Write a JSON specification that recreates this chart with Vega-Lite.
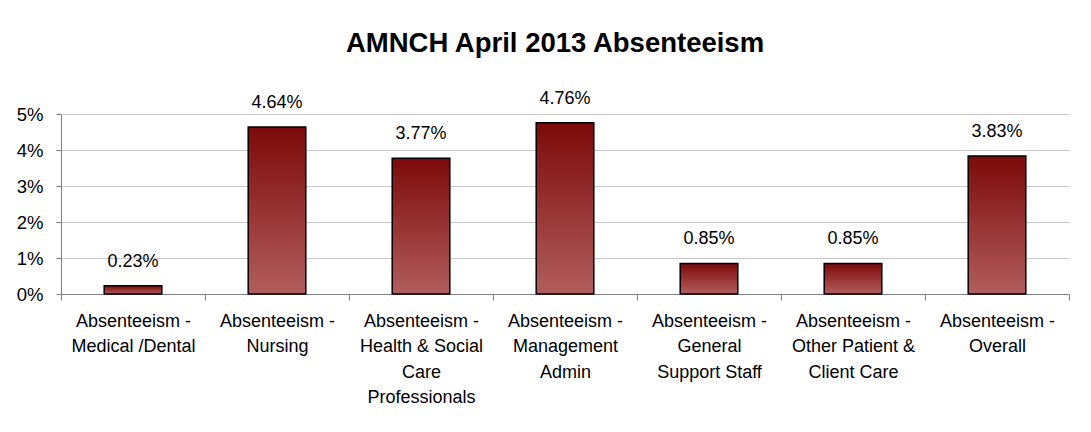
{
  "$schema": "https://vega.github.io/schema/vega-lite/v6.json",
  "width": 1008,
  "height": 180,
  "autosize": {"type": "none"},
  "padding": {"left": 61, "top": 114, "right": 22, "bottom": 138},
  "background": "white",
  "title": {
    "text": "AMNCH April 2013 Absenteeism",
    "font": "Liberation Sans",
    "fontSize": 27.5,
    "fontWeight": "bold",
    "color": "black",
    "anchor": "middle",
    "frame": "group",
    "dx": -10,
    "offset": 32
  },
  "data": {
    "values": [
      {"category": "Absenteeism -|Medical /Dental", "rate": 0.0023},
      {"category": "Absenteeism -|Nursing", "rate": 0.0464},
      {"category": "Absenteeism -|Health & Social|Care|Professionals", "rate": 0.0377},
      {"category": "Absenteeism -|Management|Admin", "rate": 0.0476},
      {"category": "Absenteeism -|General|Support Staff", "rate": 0.0085},
      {"category": "Absenteeism -|Other Patient &|Client Care", "rate": 0.0085},
      {"category": "Absenteeism -|Overall", "rate": 0.0383}
    ]
  },
  "encoding": {
    "x": {
      "field": "category",
      "type": "nominal",
      "sort": null,
      "scale": {"paddingInner": 0, "paddingOuter": 0},
      "axis": {
        "title": null,
        "labelAngle": 0,
        "labelExpr": "isValid(datum.value) ? split(datum.value, '|') : ''",
        "labelFont": "Liberation Sans",
        "labelFontSize": 18,
        "labelColor": "black",
        "labelLineHeight": 25.5,
        "labelPadding": 12,
        "labelBaseline": "top",
        "labelLimit": 200,
        "tickBand": "extent",
        "tickSize": 6,
        "tickColor": "#808080",
        "domainColor": "#808080",
        "grid": false
      }
    },
    "y": {
      "field": "rate",
      "type": "quantitative",
      "scale": {"domain": [0, 0.05], "nice": false},
      "axis": {
        "title": null,
        "values": [0, 0.01, 0.02, 0.03, 0.04, 0.05],
        "format": ".0%",
        "labelFont": "Liberation Sans",
        "labelFontSize": 18.5,
        "labelColor": "black",
        "labelPadding": 13,
        "tickSize": 5,
        "tickColor": "#808080",
        "domainColor": "#808080",
        "gridColor": "#c8c8c8",
        "gridWidth": 1
      }
    }
  },
  "layer": [
    {
      "mark": {
        "type": "bar",
        "width": {"band": 0.4},
        "stroke": "black",
        "strokeWidth": 1.5,
        "color": {
          "gradient": "linear",
          "x1": 0, "y1": 0, "x2": 0, "y2": 1,
          "stops": [
            {"offset": 0, "color": "#7c0a0a"},
            {"offset": 1, "color": "#b25d5d"}
          ]
        }
      }
    },
    {
      "mark": {
        "type": "text",
        "baseline": "middle",
        "dy": -24,
        "font": "Liberation Sans",
        "fontSize": 18,
        "color": "black"
      },
      "encoding": {
        "text": {"field": "rate", "type": "quantitative", "format": ".2%"}
      }
    }
  ],
  "config": {"view": {"stroke": null}}
}
